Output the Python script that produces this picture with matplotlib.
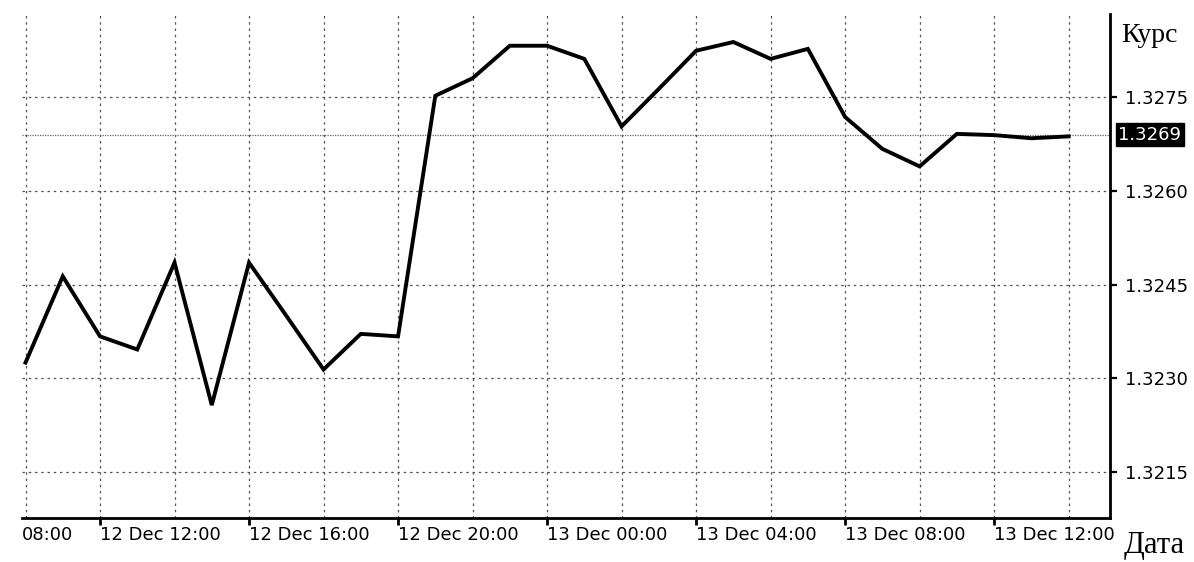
import matplotlib
matplotlib.use("Agg")
import matplotlib.pyplot as plt
from matplotlib.ticker import MultipleLocator, FixedLocator
from matplotlib.transforms import blended_transform_factory

# hours counted from 12 Dec 00:00, one point per hour
hours = list(range(10, 39))
prices = [1.32325, 1.32463, 1.32367, 1.32346, 1.32485, 1.32257, 1.32485, 1.32400,
          1.32314, 1.32371, 1.32367, 1.32752, 1.32780, 1.32832, 1.32832, 1.32811,
          1.32703, 1.32763, 1.32824, 1.32838, 1.32811, 1.32827, 1.32718, 1.32667,
          1.32639, 1.32691, 1.32689, 1.32684, 1.32687]
last_price = 1.3269
yticks = [1.3215, 1.3230, 1.3245, 1.3260, 1.3275]
xticks = [12, 16, 20, 24, 28, 32, 36]


def hour_label(h):
    return "%d Dec %02d:00" % (12 + h // 24, h % 24)


W, H = 1194, 562
fig = plt.figure(figsize=(W / 100, H / 100), dpi=100)
ax = fig.add_axes([22 / W, (H - 518) / H, (1110 - 22) / W, (518 - 14) / H])

ax.plot(hours, prices, color="black", lw=2.8, solid_joinstyle="miter", zorder=5)
ax.axhline(last_price, color="#666666", lw=0.9, ls=(0, (1, 1)), zorder=3)

ax.set_xlim(9.906, 39.11)
ax.set_ylim(1.320764, 1.328828)

ax.yaxis.tick_right()
ax.set_yticks(yticks)
ax.set_yticklabels(["%.4f" % v for v in yticks])
ax.xaxis.set_major_locator(FixedLocator(xticks))
ax.xaxis.set_minor_locator(MultipleLocator(2))
ax.set_xticklabels([hour_label(h) for h in xticks])
for lab in ax.get_xticklabels():
    lab.set_ha("left")

ax.tick_params(axis="x", which="major", direction="out", length=5, width=2,
               pad=1, labelsize=13, color="black")
ax.tick_params(axis="x", which="minor", length=0)
ax.tick_params(axis="y", direction="out", length=5, width=1.6, pad=6,
               labelsize=13)

ax.grid(axis="x", which="both", color="#555555", lw=0.9, ls=(0, (2, 3)))
ax.grid(axis="y", which="major", color="#555555", lw=0.9, ls=(0, (2, 3)))

for side in ["left", "top"]:
    ax.spines[side].set_visible(False)
for side in ["right", "bottom"]:
    ax.spines[side].set_linewidth(2)

# first date label is cut off by the chart's left edge, only the time shows
ax.annotate(hour_label(8).split()[-1], xy=(0.0, 0.0), xycoords="axes fraction",
            xytext=(0, -6), textcoords="offset points",
            ha="left", va="top", fontsize=13)

# current price box
ax.annotate("%.4f" % last_price, xy=(1.0, last_price),
            xycoords=blended_transform_factory(ax.transAxes, ax.transData),
            xytext=(6, 0), textcoords="offset points", ha="left", va="center",
            fontsize=13, color="white",
            bbox=dict(boxstyle="square,pad=0.15", fc="black", ec="black"))

fig.text(1121 / W, 1 - 36 / H, "Курс", family="Liberation Serif", fontsize=20,
         ha="left", va="center")
fig.text(1124 / W, 1 - 545 / H, "Дата", family="Liberation Serif", fontsize=22,
         ha="left", va="center")

fig.savefig("out.png", dpi=100)
